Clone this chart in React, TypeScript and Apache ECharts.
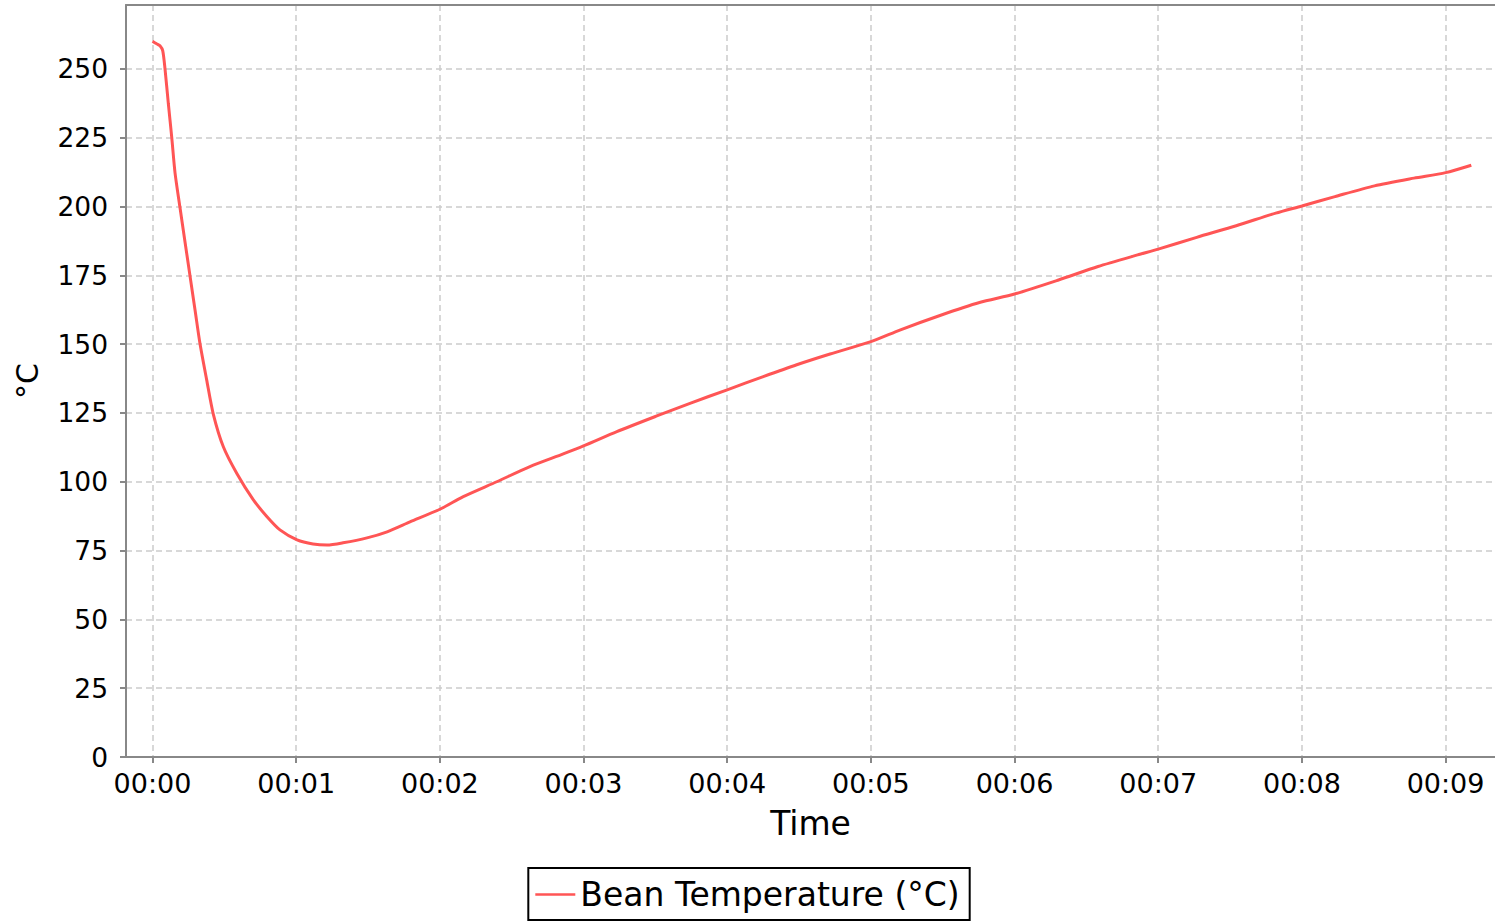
import React, { useEffect, useRef } from "react";
import * as echarts from "echarts";

// elapsed time in minutes
const times: number[] = [
  0, 0.029, 0.052, 0.071, 0.087, 0.11, 0.134, 0.157, 0.191, 0.226, 0.261, 0.296, 0.331, 0.377,
  0.423, 0.493, 0.586, 0.702, 0.797, 0.887, 1.006, 1.117, 1.215, 1.326, 1.493, 1.633, 1.792,
  2.0, 2.163, 2.396, 2.627, 2.859, 3.0, 3.232, 3.51, 3.741, 4.0, 4.251, 4.484, 4.716, 5.0,
  5.206, 5.481, 5.756, 6.0, 6.306, 6.581, 6.856, 7.0, 7.268, 7.543, 7.818, 8.0, 8.23, 8.505,
  8.78, 9.0, 9.179,
];
// bean temperature in °C
const beanTemps: number[] = [
  260, 259.1, 258.4, 256.6, 250, 237.5, 225, 212.1, 199.7, 187.2, 174.8, 162.4, 150, 137,
  124.6, 112.7, 103.1, 93.4, 87.3, 82.5, 78.9, 77.4, 77.0, 77.8, 79.6, 81.8, 85.4,
  90.0, 94.6, 100, 105.5, 110.1, 113, 118.2, 123.9, 128.5, 133.4, 138.2, 142.5, 146.4, 150.9,
  155.2, 160.4, 165.1, 168.2, 173.3, 178.2, 182.4, 184.5, 188.8, 193, 197.6, 200.2, 203.6, 207.5,
  210.3, 212.3, 215,
];
const xTicks: number[] = [0, 1, 2, 3, 4, 5, 6, 7, 8, 9];
const yTicks: number[] = [0, 25, 50, 75, 100, 125, 150, 175, 200, 225, 250];
const seriesName = "Bean Temperature (°C)";

const FONT = "DejaVu Sans";
const X_MIN = -0.1845;
const X_MAX = 9.344;

export default function App() {
  const ref = useRef<HTMLDivElement>(null);
  useEffect(() => {
    if (!ref.current) return;
    const chart = echarts.init(ref.current, undefined, { renderer: "svg" });
    const data = times.map((t, i) => [t, beanTemps[i]]);
    const gridLine = { show: true, lineStyle: { color: "#cccccc", width: 1.5, type: [6, 4] as any } };
    chart.setOption({
      animation: false,
      backgroundColor: "#ffffff",
      textStyle: { fontFamily: FONT },
      grid: {
        left: 126,
        top: 5,
        right: 0,
        bottom: 166,
      },
      xAxis: [
        {
          type: "value",
          min: X_MIN,
          max: X_MAX,
          name: "Time",
          nameLocation: "middle",
          nameGap: 50,
          nameTextStyle: { color: "#000", fontSize: 33, fontFamily: FONT },
          axisLine: { show: true, onZero: false, lineStyle: { color: "#888888", width: 2 } },
          axisTick: { show: true, length: 6, lineStyle: { color: "#888888", width: 2 }, customValues: xTicks },
          axisLabel: {
            color: "#000",
            fontSize: 27,
            fontFamily: FONT,
            margin: 13,
            customValues: xTicks,
            formatter: (v: number) => "00:0" + Math.round(v),
          },
          splitLine: gridLine,
        },
        {
          type: "value",
          position: "top",
          min: X_MIN,
          max: X_MAX,
          axisLine: { show: true, onZero: false, lineStyle: { color: "#888888", width: 2 } },
          axisTick: { show: false },
          axisLabel: { show: false },
          splitLine: { show: false },
        },
      ],
      yAxis: {
        type: "value",
        min: 0,
        max: 273.2,
        name: "°C",
        nameLocation: "middle",
        nameGap: 84,
        nameTextStyle: { color: "#000", fontSize: 30, fontFamily: FONT },
        axisLine: { show: true, onZero: false, lineStyle: { color: "#888888", width: 2 } },
        axisTick: { show: true, length: 6, lineStyle: { color: "#888888", width: 2 }, customValues: yTicks },
        axisLabel: { color: "#000", fontSize: 26.5, fontFamily: FONT, margin: 18, customValues: yTicks },
        splitLine: gridLine,
      },
      legend: {
        show: true,
        top: 868,
        left: "center",
        orient: "horizontal",
        itemWidth: 40,
        itemHeight: 14,
        padding: [10, 10, 9, 7],
        borderColor: "#000",
        borderWidth: 2,
        borderRadius: 0,
        textStyle: { color: "#000", fontSize: 33, fontFamily: FONT },
        data: [{ name: seriesName, icon: "path://M0,0 L40,0 L40,2.5 L0,2.5 Z" }],
      },
      series: [
        {
          name: seriesName,
          type: "line",
          xAxisIndex: 0,
          data,
          symbol: "none",
          showSymbol: false,
          smooth: 0.25,
          lineStyle: { color: "#ff5555", width: 3 },
          itemStyle: { color: "#ff5555" },
        },
      ],
    });
    return () => chart.dispose();
  }, []);
  return (
    <div
      ref={ref}
      style={{ position: "absolute", left: 0, top: 0, width: 1495, height: 923, overflow: "hidden" }}
    />
  );
}
